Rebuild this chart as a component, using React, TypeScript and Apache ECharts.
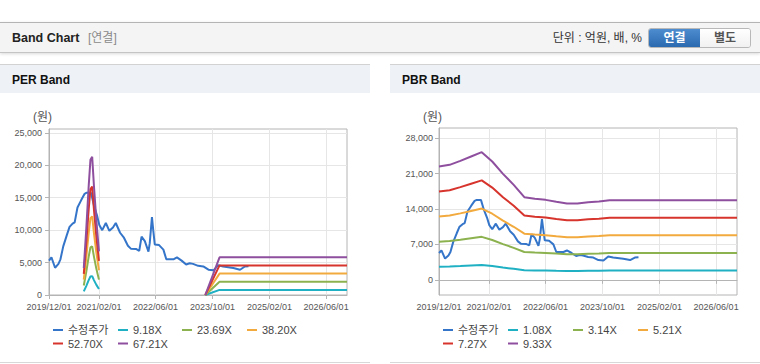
import React, { useEffect, useRef } from 'react';
import * as echarts from 'echarts';

const FONT = "'Liberation Sans', 'Noto Sans CJK KR', Arial, sans-serif";

const xMin = '2019-12-01';
const xMax = '2026-11-27';
const xTickDates = ['2019-12-01', '2021-02-01', '2022-06-01', '2023-10-01', '2025-02-01', '2026-06-01'];

const perTicks = [0, 5000, 10000, 15000, 20000, 25000];
const pbrTicks = [0, 7000, 14000, 21000, 28000];

const priceName = '수정주가';
const priceDates = [
  '2019-12-01', '2019-12-22', '2020-01-22', '2020-02-20', '2020-03-08', '2020-04-01', '2020-05-01', '2020-05-25',
  '2020-06-20', '2020-07-08', '2020-08-01', '2020-09-01', '2020-10-01', '2020-10-15', '2020-11-25', '2020-12-20',
  '2021-01-15', '2021-02-04', '2021-03-01', '2021-04-01', '2021-05-01', '2021-06-01', '2021-06-25', '2021-08-01',
  '2021-09-01', '2021-10-07', '2021-11-01', '2021-12-15', '2022-01-12', '2022-02-01', '2022-03-01', '2022-04-01',
  '2022-04-12', '2022-05-01', '2022-05-12', '2022-05-25', '2022-07-01', '2022-08-07', '2022-09-01', '2022-11-01',
  '2022-12-01', '2023-01-10', '2023-02-18', '2023-03-20', '2023-04-18', '2023-06-01', '2023-07-15', '2023-08-28',
  '2023-10-10', '2023-11-20', '2024-01-01', '2024-03-28', '2024-05-25', '2024-07-05', '2024-08-05',
];
const priceValues = [
  5300, 5800, 4200, 4800, 5500, 7500, 9200, 10500,
  11000, 11200, 13500, 14600, 15600, 15750, 15750, 13800,
  12300, 10800, 10000, 11100, 9900, 10400, 11100, 9600,
  8900, 7600, 7150, 7100, 6800, 9000, 8300, 6700,
  8000, 12000, 10000, 7800, 7700, 7000, 5500, 5500,
  5800, 5300, 4700, 4900, 4800, 4500, 4400, 3900,
  3800, 4600, 4400, 4150, 3900, 4400, 4450,
];

// PER band
const perNames = ['9.18X', '23.69X', '38.20X', '52.70X', '67.21X'];
const perBandDates = [
  '2020-09-24', '2020-10-15', '2020-11-05', '2020-11-20', '2020-12-05', '2020-12-20', '2021-01-10', '2021-02-01',
  '2021-02-10', '2023-08-01', '2023-12-01', '2026-11-27',
];
const perBand1 = [570, 1380, 2300, 2850, 2910, 2300, 1560, 920, null, 0, 790, 790];
const perBand2 = [1470, 3550, 5920, 7340, 7510, 5920, 4030, 2370, null, 0, 2050, 2050];
const perBand3 = [2370, 5730, 9550, 11840, 12110, 9550, 6490, 3820, null, 0, 3300, 3300];
const perBand4 = [3270, 7900, 13180, 16340, 16710, 13180, 8960, 5270, null, 0, 4560, 4560];
const perBand5 = [4170, 10080, 16800, 20840, 21310, 16800, 11430, 6720, null, 0, 5810, 5810];

// PBR band
const pbrNames = ['1.08X', '3.14X', '5.21X', '7.27X', '9.33X'];
const pbrBandDates = [
  '2019-12-01', '2020-03-01', '2020-06-01', '2020-09-01', '2020-12-01', '2021-03-01', '2021-06-01', '2021-09-01',
  '2021-12-01', '2022-03-01', '2022-06-01', '2022-09-01', '2022-12-01', '2023-03-01', '2023-06-01', '2023-09-01',
  '2023-12-01', '2026-11-27',
];
const pbrBand1 = [2590, 2630, 2720, 2820, 2920, 2710, 2420, 2170, 1890, 1850, 1830, 1780, 1750, 1750, 1780, 1790, 1820, 1820];
const pbrBand2 = [7540, 7650, 7910, 8200, 8490, 7870, 7050, 6320, 5500, 5390, 5320, 5190, 5070, 5070, 5160, 5210, 5300, 5300];
const pbrBand3 = [12500, 12690, 13130, 13610, 14080, 13060, 11690, 10480, 9120, 8940, 8820, 8610, 8420, 8420, 8570, 8640, 8790, 8790];
const pbrBand4 = [17450, 17700, 18320, 18990, 19650, 18220, 16310, 14630, 12720, 12470, 12310, 12010, 11750, 11750, 11950, 12060, 12260, 12260];
const pbrBand5 = [22390, 22720, 23510, 24370, 25220, 23380, 20940, 18770, 16330, 16000, 15800, 15410, 15080, 15080, 15340, 15480, 15740, 15740];

const priceColor = '#3575c9';
const bandColors = ['#1fb0c3', '#8cb24f', '#f2aa3e', '#d6342c', '#8f4f9f'];

const ts = (s: string) => +echarts.number.parseDate(s);
const pairs = (dates: string[], vals: (number | null)[]) =>
  dates.map((d, i) => [ts(d), vals[i] === null ? '-' : vals[i]]);

export default function App() {
  const ref = useRef<HTMLDivElement>(null);

  useEffect(() => {
    document.body.style.margin = '0';
    if (!ref.current) return;
    const chart = echarts.init(ref.current, undefined, { renderer: 'svg' });
    const xTicks = xTickDates.map(ts);

    const grids = [
      { left: 49, top: 129, width: 298, height: 166 },
      { left: 439, top: 128, width: 298, height: 167 },
    ];

    const mkX = (gi: number) => ({
      type: 'value',
      gridIndex: gi,
      min: ts(xMin),
      max: ts(xMax),
      axisLine: { show: true, lineStyle: { color: '#b4b4b4' } },
      axisTick: { show: true, length: 4, lineStyle: { color: '#b4b4b4' }, customValues: xTicks },
      axisLabel: {
        customValues: xTicks,
        formatter: (v: number) => echarts.time.format(v, '{yyyy}/{MM}/{dd}', false),
        color: '#555',
        fontSize: 9,
        fontFamily: FONT,
        margin: 7,
        hideOverlap: false,
      },
      splitLine: { show: true, lineStyle: { color: '#e6e6e6' } },
    });

    const mkY = (gi: number, min: number, max: number, ticks: number[], margin: number) => ({
      type: 'value',
      gridIndex: gi,
      min,
      max,
      axisLine: { show: true, lineStyle: { color: '#b4b4b4' } },
      axisTick: { show: true, length: 4, lineStyle: { color: '#b4b4b4' }, customValues: ticks },
      axisLabel: {
        customValues: ticks,
        formatter: (v: number) => v.toLocaleString('en-US'),
        color: '#555',
        fontSize: 9,
        fontFamily: FONT,
        margin,
      },
      splitLine: { show: true, lineStyle: { color: '#e6e6e6' } },
    });

    const line = (name: string, color: string, gi: number, data: any[]) => ({
      name,
      type: 'line',
      xAxisIndex: gi,
      yAxisIndex: gi,
      data,
      symbol: 'none',
      connectNulls: false,
      lineStyle: { color, width: 2 },
      itemStyle: { color },
      emphasis: { disabled: true },
    });

    const perBands = [perBand1, perBand2, perBand3, perBand4, perBand5];
    const pbrBands = [pbrBand1, pbrBand2, pbrBand3, pbrBand4, pbrBand5];

    const series: any[] = [
      line(priceName, priceColor, 0, pairs(priceDates, priceValues)),
      ...perBands.map((b, i) => line(perNames[i], bandColors[i], 0, pairs(perBandDates, b))),
      line(priceName, priceColor, 1, pairs(priceDates, priceValues)),
      ...pbrBands.map((b, i) => line(pbrNames[i], bandColors[i], 1, pairs(pbrBandDates, b))),
    ];

    const colX = [53, 118, 182, 247];
    const colX2 = [443, 508, 573, 638];
    const rowY = [330, 343.5];
    const mkLegends = (names: string[], cols: number[]) =>
      names.map((n, i) => ({
        data: [n],
        left: cols[i % 4],
        top: rowY[Math.floor(i / 4)] - 7,
        padding: 0,
        icon: 'rect',
        itemWidth: 10,
        itemHeight: 2,
        selectedMode: false,
        textStyle: { color: '#444', fontSize: 11, fontFamily: FONT, lineHeight: 14 },
      }));

    chart.setOption({
      animation: false,
      grid: grids.map((g) => ({ ...g, show: true, borderColor: '#b4b4b4', borderWidth: 1, backgroundColor: '#fff' })),
      xAxis: [mkX(0), mkX(1)],
      yAxis: [mkY(0, 0, 25600, perTicks, 7), mkY(1, -3000, 30000, pbrTicks, 6)],
      legend: [
        ...mkLegends([priceName, ...perNames], colX),
        ...mkLegends([priceName, ...pbrNames], colX2),
      ],
      graphic: [
        { type: 'text', left: 33, top: 111, style: { text: '(원)', fill: '#555', fontSize: 12, fontFamily: FONT } },
        { type: 'text', left: 423, top: 111, style: { text: '(원)', fill: '#555', fontSize: 12, fontFamily: FONT } },
      ],
      series,
    });
    return () => chart.dispose();
  }, []);

  const abs = (s: React.CSSProperties): React.CSSProperties => ({ position: 'absolute', ...s });

  return (
    <div style={{ position: 'relative', width: 760, height: 364, background: '#fff', fontFamily: FONT, overflow: 'hidden' }}>
      <div style={abs({ left: 0, top: 22, width: 760, height: 29, background: '#f4f4f4', borderTop: '1px solid #b4b4b4', borderBottom: '1px solid #c4c4c4', boxShadow: '0 1px 3px rgba(0,0,0,0.15)' })} />
      <div style={abs({ left: 12, top: 30, fontSize: 12.5, fontWeight: 'bold', color: '#222', lineHeight: '16px' })}>Band Chart</div>
      <div style={abs({ left: 88, top: 30, fontSize: 12, color: '#8a8a8a', lineHeight: '16px' })}>[연결]</div>
      <div style={abs({ right: 118, top: 30, fontSize: 12, color: '#333', lineHeight: '16px' })}>단위 : 억원, 배, %</div>
      <div style={abs({ left: 648, top: 28, width: 101, height: 18, border: '1px solid #b8b8b8', borderRadius: 3, overflow: 'hidden', display: 'flex' })}>
        <div style={{ width: 51, height: 18, background: 'linear-gradient(#4d8ccf, #2c6ab0)', color: '#fff', fontSize: 12, fontWeight: 'bold', textAlign: 'center', lineHeight: '18px' }}>연결</div>
        <div style={{ flex: 1, height: 18, background: 'linear-gradient(#ffffff, #f1f1f1)', color: '#555', fontSize: 12, fontWeight: 'bold', textAlign: 'center', lineHeight: '18px' }}>별도</div>
      </div>

      <div style={abs({ left: 0, top: 64, width: 370, height: 28, background: '#eef2f7', borderTop: '1px solid #d2d2d2' })} />
      <div style={abs({ left: 12, top: 72, fontSize: 12, fontWeight: 'bold', color: '#111', lineHeight: '16px' })}>PER Band</div>
      <div style={abs({ left: 0, top: 362, width: 370, height: 1, background: '#d8d8d8' })} />

      <div style={abs({ left: 390, top: 64, width: 370, height: 28, background: '#eef2f7', borderTop: '1px solid #d2d2d2' })} />
      <div style={abs({ left: 402, top: 72, fontSize: 12, fontWeight: 'bold', color: '#111', lineHeight: '16px' })}>PBR Band</div>
      <div style={abs({ left: 390, top: 362, width: 370, height: 1, background: '#d8d8d8' })} />

      <div ref={ref} style={abs({ left: 0, top: 0, width: 760, height: 364 })} />
    </div>
  );
}
